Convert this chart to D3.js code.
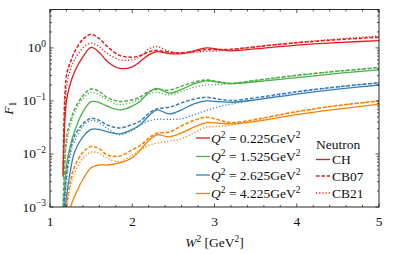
<!DOCTYPE html>
<html>
<head>
<meta charset="utf-8">
<style>
  body { margin: 0; background: #fff; }
  text { font-family: "Liberation Serif", "DejaVu Serif", serif; font-size: 13.5px; fill: #111; }
</style>
<script src="https://d3js.org/d3.v7.min.js"></script>
</head>
<body>
<svg width="407" height="254"></svg>
<script>
// W^2 grid (GeV^2)
const W2 = [1.16, 1.2, 1.25, 1.3, 1.4, 1.5, 1.6, 1.7, 1.85, 2.0, 2.1, 2.2, 2.3, 2.45, 2.6, 2.75, 2.9, 3.05, 3.2, 3.5, 4.0, 4.5, 5.0];

const q2Labels = ["0.225", "1.525", "2.625", "4.225"];
const models = ["CH", "CB07", "CB21"];

// Q^2 = 0.225
const ch_q1   = [0.0037, 0.10, 0.22, 0.36, 0.68, 1.02, 0.82, 0.55, 0.41, 0.44, 0.56, 0.74, 0.85, 0.78, 0.78, 0.88, 1.0, 0.94, 0.88, 0.96, 1.13, 1.26, 1.37];
const cb07_q1 = [0.004, 0.30, 0.55, 0.85, 1.45, 1.81, 1.5, 1.05, 0.72, 0.67, 0.72, 0.84, 0.89, 0.83, 0.81, 0.86, 0.93, 0.93, 0.94, 1.05, 1.25, 1.43, 1.59];
const cb21_q1 = [0.004, 0.18, 0.40, 0.60, 1.0, 1.23, 1.05, 0.78, 0.60, 0.60, 0.70, 0.95, 1.06, 0.86, 0.80, 0.83, 0.86, 0.89, 0.92, 1.05, 1.27, 1.47, 1.68];
// Q^2 = 1.525
const ch_q2   = [0.0006, 0.006, 0.015, 0.027, 0.062, 0.097, 0.093, 0.079, 0.068, 0.08, 0.10, 0.145, 0.173, 0.14, 0.165, 0.21, 0.24, 0.225, 0.212, 0.23, 0.275, 0.33, 0.385];
const cb07_q2 = [0.001, 0.02, 0.043, 0.07, 0.125, 0.168, 0.15, 0.115, 0.098, 0.105, 0.12, 0.15, 0.166, 0.16, 0.19, 0.225, 0.25, 0.23, 0.215, 0.245, 0.305, 0.365, 0.425];
const cb21_q2 = [0.001, 0.015, 0.035, 0.06, 0.11, 0.145, 0.13, 0.104, 0.085, 0.095, 0.11, 0.135, 0.145, 0.13, 0.15, 0.18, 0.20, 0.205, 0.21, 0.24, 0.30, 0.36, 0.42];
// Q^2 = 2.625
const ch_q3   = [0.0003, 0.0015, 0.005, 0.011, 0.021, 0.029, 0.029, 0.026, 0.024, 0.029, 0.036, 0.052, 0.068, 0.057, 0.068, 0.088, 0.10, 0.097, 0.094, 0.105, 0.135, 0.167, 0.20];
const cb07_q3 = [0.0004, 0.004, 0.013, 0.022, 0.037, 0.047, 0.043, 0.035, 0.031, 0.036, 0.042, 0.058, 0.071, 0.076, 0.092, 0.108, 0.117, 0.108, 0.102, 0.115, 0.15, 0.185, 0.22];
const cb21_q3 = [0.0004, 0.003, 0.010, 0.018, 0.033, 0.043, 0.039, 0.030, 0.023, 0.028, 0.035, 0.042, 0.045, 0.045, 0.046, 0.055, 0.066, 0.078, 0.087, 0.105, 0.145, 0.183, 0.22];
// Q^2 = 4.225
const ch_q4   = [0.0001, 0.0004, 0.001, 0.0016, 0.0033, 0.0055, 0.0062, 0.0062, 0.0068, 0.0085, 0.012, 0.018, 0.023, 0.021, 0.025, 0.032, 0.039, 0.038, 0.037, 0.041, 0.055, 0.07, 0.087];
const cb07_q4 = [0.0001, 0.001, 0.0032, 0.0058, 0.0108, 0.0138, 0.0125, 0.0095, 0.0092, 0.012, 0.0145, 0.02, 0.0245, 0.026, 0.034, 0.043, 0.049, 0.044, 0.039, 0.045, 0.063, 0.082, 0.10];
const cb21_q4 = [0.0001, 0.0008, 0.0025, 0.0045, 0.0082, 0.0108, 0.0103, 0.0082, 0.0072, 0.0095, 0.012, 0.0145, 0.016, 0.0175, 0.0195, 0.025, 0.032, 0.033, 0.035, 0.043, 0.062, 0.081, 0.10];

const xTicks = [1, 2, 3, 4, 5];
const yTicks = [1e-3, 1e-2, 1e-1, 1e0];
const yTickExp = ["\u22123", "\u22122", "\u22121", "0"];

const colors = ["#e41a1c", "#4daf4a", "#377eb8", "#ff7f00"];
const dashes = [null, "3.6,1.8", "1.2,2"];
const widths = [1.3, 1.5, 1.3];

const data = [
  [ch_q1, cb07_q1, cb21_q1],
  [ch_q2, cb07_q2, cb21_q2],
  [ch_q3, cb07_q3, cb21_q3],
  [ch_q4, cb07_q4, cb21_q4]
];

const svg = d3.select("svg");
const pl = 50, pr = 379, pt = 9.5, pb = 207;

const x = d3.scaleLinear().domain([1, 5]).range([pl, pr]);
const y = d3.scaleLog().domain([1e-3, 5.3]).range([pb, pt]);

svg.append("clipPath").attr("id", "clip")
  .append("rect").attr("x", pl).attr("y", pt)
  .attr("width", pr - pl).attr("height", pb - pt);

const line = d3.line()
  .x((d, i) => x(W2[i]))
  .y(d => y(d))
  .curve(d3.curveCatmullRom.alpha(0.5));

const plot = svg.append("g").attr("clip-path", "url(#clip)");
data.forEach((group, qi) => {
  group.forEach((vals, mi) => {
    plot.append("path")
      .attr("d", line(vals))
      .attr("fill", "none")
      .attr("stroke", colors[qi])
      .attr("stroke-width", widths[mi])
      .attr("stroke-dasharray", dashes[mi]);
  });
});

// frame
svg.append("rect")
  .attr("x", pl).attr("y", pt)
  .attr("width", pr - pl).attr("height", pb - pt)
  .attr("fill", "none").attr("stroke", "#111").attr("stroke-width", 0.9);

// ticks, inward on all sides
const xMinor = d3.range(1, 5.001, 0.2).filter(v => Math.abs(v - Math.round(v)) > 1e-6);
const yMinor = [];
[-3, -2, -1, 0].forEach(e => {
  for (let k = 2; k <= 9; k++) {
    const v = k * Math.pow(10, e);
    if (v <= 5.3) yMinor.push(v);
  }
});

const tk = svg.append("g").attr("stroke", "#111").attr("stroke-width", 0.7);
function xTick(v, len) {
  tk.append("line").attr("x1", x(v)).attr("x2", x(v)).attr("y1", pb).attr("y2", pb - len);
  tk.append("line").attr("x1", x(v)).attr("x2", x(v)).attr("y1", pt).attr("y2", pt + len);
}
function yTick(v, len) {
  tk.append("line").attr("y1", y(v)).attr("y2", y(v)).attr("x1", pl).attr("x2", pl + len);
  tk.append("line").attr("y1", y(v)).attr("y2", y(v)).attr("x1", pr).attr("x2", pr - len);
}
xTicks.forEach(v => xTick(v, 3.5));
xMinor.forEach(v => xTick(v, 2));
yTicks.forEach(v => yTick(v, 3.5));
yMinor.forEach(v => yTick(v, 2));

// tick labels
xTicks.forEach(v => {
  svg.append("text").attr("x", x(v)).attr("y", 226)
    .attr("text-anchor", "middle").text(v);
});
yTicks.forEach((v, i) => {
  const t = svg.append("text").attr("x", 46).attr("y", y(v) + 4.5)
    .attr("text-anchor", "end");
  t.append("tspan").text("10");
  t.append("tspan").attr("dy", -5.5).style("font-size", "9.5px").text(yTickExp[i]);
});

// axis titles
const xt = svg.append("text").attr("x", (pl + pr) / 2).attr("y", 247).attr("text-anchor", "middle");
xt.append("tspan").style("font-style", "italic").text("W");
xt.append("tspan").attr("dy", -5).style("font-size", "9.5px").text("2");
xt.append("tspan").attr("dy", 5).text(" [GeV");
xt.append("tspan").attr("dy", -5).style("font-size", "9.5px").text("2");
xt.append("tspan").attr("dy", 5).text("]");

const yt = svg.append("text")
  .attr("transform", `translate(13, ${(pt + pb) / 2}) rotate(-90)`)
  .attr("text-anchor", "middle");
yt.append("tspan").style("font-style", "italic").text("F");
yt.append("tspan").attr("dy", 3).style("font-size", "9.5px").text("1");

// legend: Q^2 values
const legRows = [138, 156.5, 175, 193.5];
q2Labels.forEach((q, i) => {
  svg.append("line").attr("x1", 196).attr("x2", 210)
    .attr("y1", legRows[i]).attr("y2", legRows[i])
    .attr("stroke", colors[i]).attr("stroke-width", 1.3);
  const t = svg.append("text").attr("x", 211).attr("y", legRows[i] + 4.5);
  t.append("tspan").style("font-style", "italic").text("Q");
  t.append("tspan").attr("dy", -5).style("font-size", "9.5px").text("2");
  t.append("tspan").attr("dy", 5).text(" = " + q + "GeV");
  t.append("tspan").attr("dy", -5).style("font-size", "9.5px").text("2");
});

// legend: models
svg.append("text").attr("x", 316).attr("y", 149).text("Neutron");
const modRows = [159.5, 176, 193];
models.forEach((m, i) => {
  svg.append("line").attr("x1", 316).attr("x2", 330)
    .attr("y1", modRows[i]).attr("y2", modRows[i])
    .attr("stroke", colors[0]).attr("stroke-width", widths[i])
    .attr("stroke-dasharray", dashes[i]);
  svg.append("text").attr("x", 332).attr("y", modRows[i] + 4.5).text(m);
});
</script>
</body>
</html>
